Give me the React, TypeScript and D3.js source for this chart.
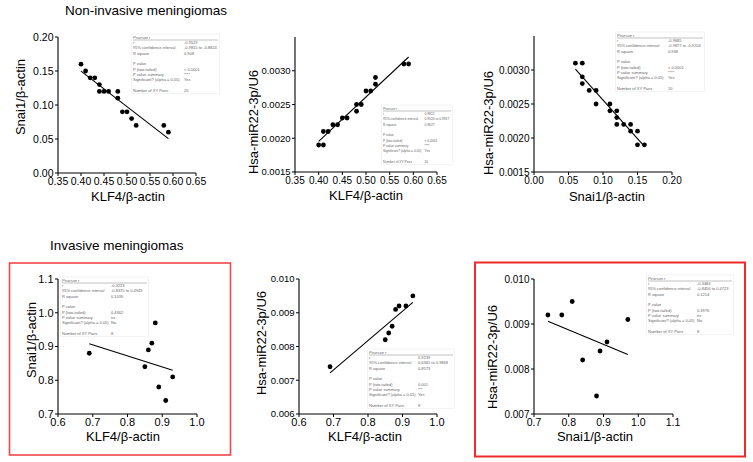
import React from 'react';
import * as d3 from 'd3';

// non-invasive group, one pair of arrays per panel
const nonInvKlf4A = [0.40, 0.41, 0.42, 0.43, 0.44, 0.44, 0.45, 0.46, 0.48, 0.48, 0.49, 0.50, 0.51, 0.52, 0.58, 0.59];
const nonInvSnai1A = [0.16, 0.15, 0.14, 0.14, 0.13, 0.12, 0.12, 0.12, 0.12, 0.11, 0.09, 0.09, 0.08, 0.07, 0.07, 0.06];

const nonInvKlf4B = [0.40, 0.41, 0.41, 0.42, 0.43, 0.44, 0.45, 0.46, 0.48, 0.48, 0.49, 0.50, 0.51, 0.52, 0.52, 0.58, 0.59];
const nonInvMir22B = [0.0019, 0.0019, 0.0021, 0.0021, 0.0022, 0.0022, 0.0023, 0.0023, 0.0024, 0.0025, 0.0025, 0.0027, 0.0027, 0.0028, 0.0029, 0.0031, 0.0031];

const nonInvSnai1C = [0.06, 0.07, 0.07, 0.07, 0.08, 0.09, 0.09, 0.11, 0.11, 0.12, 0.12, 0.12, 0.13, 0.14, 0.14, 0.15, 0.15, 0.16];
const nonInvMir22C = [0.0031, 0.0031, 0.0029, 0.0028, 0.0027, 0.0027, 0.0025, 0.0025, 0.0024, 0.0024, 0.0023, 0.0022, 0.0022, 0.0022, 0.0021, 0.0021, 0.0019, 0.0019];

// invasive group, same 8 samples in all three panels
const invKlf4 = [0.69, 0.85, 0.86, 0.87, 0.88, 0.89, 0.91, 0.93];
const invSnai1 = [0.88, 0.84, 0.89, 0.91, 0.97, 0.78, 0.74, 0.81];
const invMir22 = [0.0074, 0.0082, 0.0084, 0.0086, 0.0091, 0.0092, 0.0092, 0.0095];

const ticksKlf4Non = [0.35, 0.40, 0.45, 0.50, 0.55, 0.60, 0.65];
const ticksSnai1Non = [0.00, 0.05, 0.10, 0.15, 0.20];
const ticksMir22Non = [0.0015, 0.0020, 0.0025, 0.0030];
const ticksKlf4Inv = [0.6, 0.7, 0.8, 0.9, 1.0];
const ticksSnai1InvY = [0.7, 0.8, 0.9, 1.0, 1.1];
const ticksSnai1InvX = [0.7, 0.8, 0.9, 1.0, 1.1];
const ticksMir22Inv = [0.006, 0.007, 0.008, 0.009, 0.010];
const ticksMir22Inv6 = [0.007, 0.008, 0.009, 0.010];

const statLabels = ['r', '95% confidence interval', 'R square', '', 'P value', 'P (two-tailed)', 'P value summary', 'Significant? (alpha = 0.05)', '', 'Number of XY Pairs'];
const stats1 = ['-0.9529', '-0.9815 to -0.8824', '0.908', '', '', '< 0.0001', '****', 'Yes', '', '20'];
const stats2 = ['0.9812', '0.9520 to 0.9927', '0.9627', '', '', '< 0.0001', '****', 'Yes', '', '20'];
const stats3 = ['-0.9685', '-0.9877 to -0.9204', '0.938', '', '', '< 0.0001', '****', 'Yes', '', '20'];
const stats4 = ['-0.3223', '-0.8370 to 0.4949', '0.1039', '', '', '0.4362', 'ns', 'No', '', '8'];
const stats5 = ['0.9239', '0.6365 to 0.9868', '0.8573', '', '', '0.001', '***', 'Yes', '', '8'];
const stats6 = ['-0.3484', '-0.8456 to 0.4723', '0.1214', '', '', '0.3976', 'ns', 'No', '', '8'];

const FONT = '"Liberation Sans", Arial, Helvetica, sans-serif';

function linearFit(xs: number[], ys: number[]) {
  const mx = d3.mean(xs) as number;
  const my = d3.mean(ys) as number;
  let sxy = 0, sxx = 0;
  xs.forEach((v, i) => { sxy += (v - mx) * (ys[i] - my); sxx += (v - mx) * (v - mx); });
  const b = sxy / sxx;
  return (v: number) => my + b * (v - mx);
}

function StatsTable({ x, y, w, col, fs, values }: any) {
  const step = 5.35;
  const bottom = y + step * 10 + 3;
  return (
    <g fontFamily={FONT} fontSize={fs} fill="#666">
      <rect x={x - 1.5} y={y - 3} width={w + 3} height={bottom - y + 3} fill="white" stroke="#ececec" strokeWidth={0.6} />
      <text x={x} y={y + 1.5} fontStyle="italic">Pearson r</text>
      <line x1={x} x2={x + w} y1={y + 3} y2={y + 3} stroke="#999" strokeWidth={0.6} />
      {statLabels.map((l, i) => (
        <g key={i}>
          <text x={x} y={y + step * (i + 1) + 1.5}>{l}</text>
          <text x={x + col} y={y + step * (i + 1) + 1.5}>{values[i]}</text>
        </g>
      ))}
    </g>
  );
}

function Panel({ p }: any) {
  const x = d3.scaleLinear().domain(p.xDomain).range([p.left, p.right]);
  const y = d3.scaleLinear().domain(p.yDomain).range([p.bottom, p.top]);
  const fit = linearFit(p.xs, p.ys);
  const [xmin, xmax] = d3.extent(p.xs) as [number, number];
  const line = d3.line<number>().x(v => x(v)).y(v => y(fit(v)));
  const fx = d3.format(p.xFmt);
  const fy = d3.format(p.yFmt);
  return (
    <g fontFamily={FONT}>
      {p.stats && <StatsTable {...p.table} values={p.stats} />}
      <line x1={p.left} x2={p.left} y1={p.top} y2={p.bottom} stroke="black" strokeWidth={1.1} />
      <line x1={p.left} x2={p.right} y1={p.bottom} y2={p.bottom} stroke="black" strokeWidth={1.1} />
      {p.yTicks.map((t: number) => (
        <g key={'y' + t}>
          <line x1={p.left - 3} x2={p.left} y1={y(t)} y2={y(t)} stroke="black" />
          <text x={p.left - 4.5} y={y(t)} dy="0.35em" textAnchor="end" fontSize={p.yFont}>{fy(t)}</text>
        </g>
      ))}
      {p.xTicks.map((t: number) => (
        <g key={'x' + t}>
          <line x1={x(t)} x2={x(t)} y1={p.bottom} y2={p.bottom + 3} stroke="black" />
          <text x={x(t)} y={p.bottom + 11.5} textAnchor="middle" fontSize={p.xFont}>{fx(t)}</text>
        </g>
      ))}
      <path d={line([xmin, xmax]) as string} stroke="black" strokeWidth={1.1} fill="none" />
      {p.xs.map((v: number, i: number) => (
        <circle key={i} cx={x(v)} cy={y(p.ys[i])} r={2.4} fill="black" />
      ))}
      <text x={p.xLabel[1]} y={p.xLabel[2]} textAnchor="middle" fontSize={13}>{p.xLabel[0]}</text>
      <text transform={`translate(${p.yLabel[1]},${p.yLabel[2]}) rotate(-90)`} textAnchor="middle" fontSize={13}>{p.yLabel[0]}</text>
    </g>
  );
}

const panels = [
  {
    xs: nonInvKlf4A, ys: nonInvSnai1A, xDomain: [0.35, 0.65], yDomain: [0, 0.2],
    xTicks: ticksKlf4Non, yTicks: ticksSnai1Non, xFmt: '.2f', yFmt: '.2f', xFont: 10.5, yFont: 10.5,
    left: 58, right: 196, top: 37, bottom: 173,
    xLabel: ['KLF4/β-actin', 128, 201], yLabel: ['Snai1/β-actin', 25, 97],
    stats: stats1, table: { x: 133, y: 37, w: 85, col: 51, fs: 4 },
  },
  {
    xs: nonInvKlf4B, ys: nonInvMir22B, xDomain: [0.35, 0.65], yDomain: [0.0015, 0.0035],
    xTicks: ticksKlf4Non, yTicks: ticksMir22Non, xFmt: '.2f', yFmt: '.4f', xFont: 10, yFont: 9.5,
    left: 295, right: 437, top: 37, bottom: 172,
    xLabel: ['KLF4/β-actin', 366, 200], yLabel: ['Hsa-miR22-3p/U6', 258, 122],
    stats: stats2, table: { x: 383, y: 108, w: 68, col: 41.5, fs: 3.3 },
  },
  {
    xs: nonInvSnai1C, ys: nonInvMir22C, xDomain: [0, 0.2], yDomain: [0.0015, 0.0035],
    xTicks: ticksSnai1Non, yTicks: ticksMir22Non, xFmt: '.2f', yFmt: '.4f', xFont: 10, yFont: 10,
    left: 534, right: 672, top: 36, bottom: 172,
    xLabel: ['Snai1/β-actin', 607, 201], yLabel: ['Hsa-miR22-3p/U6', 493, 123],
    stats: stats3, table: { x: 617, y: 35, w: 86, col: 51, fs: 4 },
  },
  {
    xs: invKlf4, ys: invSnai1, xDomain: [0.6, 1.0], yDomain: [0.7, 1.1],
    xTicks: ticksKlf4Inv, yTicks: ticksSnai1InvY, xFmt: '.1f', yFmt: '.1f', xFont: 11, yFont: 11,
    left: 58, right: 197, top: 279, bottom: 414,
    xLabel: ['KLF4/β-actin', 123, 441], yLabel: ['Snai1/β-actin', 36, 340],
    stats: stats4, table: { x: 62, y: 280, w: 85, col: 49, fs: 4 },
  },
  {
    xs: invKlf4, ys: invMir22, xDomain: [0.6, 1.0], yDomain: [0.006, 0.010],
    xTicks: ticksKlf4Inv, yTicks: ticksMir22Inv, xFmt: '.1f', yFmt: '.3f', xFont: 11, yFont: 9.5,
    left: 299, right: 437, top: 279, bottom: 414,
    xLabel: ['KLF4/β-actin', 365, 441], yLabel: ['Hsa-miR22-3p/U6', 266, 343],
    stats: stats5, table: { x: 369, y: 352, w: 84, col: 49, fs: 4 },
  },
  {
    xs: invSnai1, ys: invMir22, xDomain: [0.7, 1.1], yDomain: [0.007, 0.010],
    xTicks: ticksSnai1InvX, yTicks: ticksMir22Inv6, xFmt: '.1f', yFmt: '.3f', xFont: 10.5, yFont: 10,
    left: 534, right: 673, top: 279, bottom: 414,
    xLabel: ['Snai1/β-actin', 595, 441], yLabel: ['Hsa-miR22-3p/U6', 497, 357],
    stats: stats6, table: { x: 648, y: 278, w: 84, col: 49, fs: 4 },
  },
];

export default function App() {
  return (
    <svg width={753} height={462} style={{ position: 'absolute', left: 0, top: 0, background: 'white' }}>
      <rect width={753} height={462} fill="white" />
      <text x={65} y={15} fontFamily={FONT} fontSize={13.5}>Non-invasive meningiomas</text>
      <text x={50} y={250} fontFamily={FONT} fontSize={13.5}>Invasive meningiomas</text>
      <rect x={9.5} y={263} width={221} height={192} fill="none" stroke="#f04848" strokeWidth={1.6} />
      <rect x={475} y={262.5} width={270} height={194} fill="none" stroke="#ee2a2a" strokeWidth={2} />
      {panels.map((p, i) => <Panel key={i} p={p} />)}
    </svg>
  );
}
